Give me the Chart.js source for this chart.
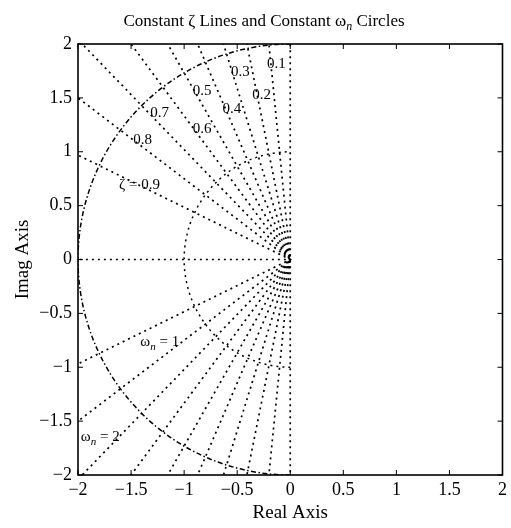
<!DOCTYPE html>
<html>
<head>
<meta charset="utf-8">
<script src="https://cdn.jsdelivr.net/npm/chart.js@4.4.1/dist/chart.umd.min.js"></script>
<style>
  html, body { margin: 0; padding: 0; background: #fff; }
  #wrap { width: 511px; height: 528px; position: relative; }
</style>
</head>
<body>
<div id="wrap"><canvas id="sgrid"></canvas></div>
<script>
// damping ratios drawn as rays from the origin
const zetaValues = [0, 0.1, 0.2, 0.3, 0.4, 0.5, 0.6, 0.7, 0.8, 0.9, 1];
// natural frequencies drawn as half circles
const wnValues = [1, 2];
const wnDash = [[2, 4], [5, 2.5, 1.5, 2.5]];

const xTickValues = [-2, -1.5, -1, -0.5, 0, 0.5, 1, 1.5, 2];
const xTickLabels = ['\u22122', '\u22121.5', '\u22121', '\u22120.5', '0', '0.5', '1', '1.5', '2'];
const yTickValues = [-2, -1.5, -1, -0.5, 0, 0.5, 1, 1.5, 2];
const yTickLabels = ['\u22122', '\u22121.5', '\u22121', '\u22120.5', '0', '0.5', '1', '1.5', '2'];

// in-plot labels (data coordinates)
const zetaLabelText = ['0.1', '0.2', '0.3', '0.4', '0.5', '0.6', '0.7', '0.8', '\u03B6 = 0.9'];
const zetaLabelX = [-0.13, -0.27, -0.47, -0.55, -0.83, -0.83, -1.23, -1.39, -1.42];
const zetaLabelY = [1.81, 1.53, 1.74, 1.40, 1.56, 1.21, 1.36, 1.11, 0.69];
const wnLabelValue = ['1', '2'];
const wnLabelX = [-1.23, -1.79];
const wnLabelY = [-0.77, -1.65];

const SERIF = '"Liberation Serif", "DejaVu Serif", serif';
const RAY_LEN = 3;

function rayPoints(z) {
  const s = Math.sqrt(1 - z * z);
  const pts = [{ x: -RAY_LEN * z, y: RAY_LEN * s }, { x: 0, y: 0 }];
  if (s > 0) pts.push({ x: -RAY_LEN * z, y: -RAY_LEN * s });
  return pts;
}

const datasets = zetaValues.map((z) => ({
  label: 'zeta ' + z,
  data: rayPoints(z),
  showLine: true,
  borderColor: '#000',
  borderWidth: 1.7,
  borderDash: [2, 4],
  borderCapStyle: 'butt',
  pointRadius: 0,
  fill: false,
}));

// draws text with an italic subscript n after omega
function drawOmegaN(ctx, x, y, size, rest, align) {
  const main = size + 'px ' + SERIF;
  const sub = 'italic ' + Math.round(size * 0.72) + 'px ' + SERIF;
  ctx.font = main;
  const w1 = ctx.measureText('\u03C9').width;
  ctx.font = sub;
  const w2 = ctx.measureText('n').width;
  ctx.font = main;
  const w3 = ctx.measureText(rest).width;
  let start = x;
  if (align === 'center') start = x - (w1 + w2 + w3) / 2;
  ctx.textAlign = 'left';
  ctx.textBaseline = 'middle';
  ctx.font = main;
  ctx.fillText('\u03C9', start, y);
  ctx.font = sub;
  ctx.fillText('n', start + w1, y + size * 0.3);
  ctx.font = main;
  ctx.fillText(rest, start + w1 + w2, y);
}

const sgridExtras = {
  id: 'sgridExtras',
  beforeDatasetsDraw(chart) {
    const { ctx, chartArea, scales } = chart;
    const cx = scales.x.getPixelForValue(0);
    const cy = scales.y.getPixelForValue(0);
    ctx.save();
    ctx.beginPath();
    ctx.rect(chartArea.left, chartArea.top, chartArea.right - chartArea.left, chartArea.bottom - chartArea.top);
    ctx.clip();
    ctx.strokeStyle = '#000';
    ctx.lineWidth = 1.5;
    wnValues.forEach((wn, i) => {
      const rx = Math.abs(scales.x.getPixelForValue(wn) - cx);
      const ry = Math.abs(scales.y.getPixelForValue(wn) - cy);
      ctx.setLineDash(wnDash[i]);
      ctx.beginPath();
      ctx.ellipse(cx, cy, rx, ry, 0, Math.PI / 2, Math.PI * 1.5);
      ctx.stroke();
    });
    ctx.restore();
  },
  afterDraw(chart) {
    const { ctx, chartArea, scales } = chart;
    const { left, right, top, bottom } = chartArea;
    ctx.save();
    ctx.setLineDash([]);
    ctx.strokeStyle = '#000';
    ctx.lineWidth = 1.6;
    ctx.strokeRect(left, top, right - left, bottom - top);

    // inward ticks on all four sides
    ctx.lineWidth = 1;
    ctx.beginPath();
    xTickValues.forEach((v) => {
      const px = scales.x.getPixelForValue(v);
      ctx.moveTo(px, bottom); ctx.lineTo(px, bottom - 5);
      ctx.moveTo(px, top); ctx.lineTo(px, top + 5);
    });
    yTickValues.forEach((v) => {
      const py = scales.y.getPixelForValue(v);
      ctx.moveTo(left, py); ctx.lineTo(left + 5, py);
      ctx.moveTo(right, py); ctx.lineTo(right - 5, py);
    });
    ctx.stroke();

    ctx.fillStyle = '#000';
    ctx.font = '15px ' + SERIF;
    ctx.textAlign = 'center';
    ctx.textBaseline = 'middle';
    zetaLabelText.forEach((t, i) => {
      ctx.fillText(t, scales.x.getPixelForValue(zetaLabelX[i]), scales.y.getPixelForValue(zetaLabelY[i]));
    });
    wnLabelValue.forEach((t, i) => {
      drawOmegaN(ctx, scales.x.getPixelForValue(wnLabelX[i]), scales.y.getPixelForValue(wnLabelY[i]), 15, ' = ' + t, 'center');
    });

    // title with the subscripted omega
    const size = 17;
    const main = size + 'px ' + SERIF;
    const part1 = 'Constant \u03B6 Lines and Constant ';
    const part3 = ' Circles';
    ctx.font = main;
    const w1 = ctx.measureText(part1).width;
    const wOm = ctx.measureText('\u03C9').width;
    const w3 = ctx.measureText(part3).width;
    ctx.font = 'italic ' + Math.round(size * 0.72) + 'px ' + SERIF;
    const wN = ctx.measureText('n').width;
    const tx = 264 - (w1 + wOm + wN + w3) / 2;
    const ty = 22;
    ctx.textAlign = 'left';
    ctx.font = main;
    ctx.fillText(part1, tx, ty);
    drawOmegaN(ctx, tx + w1, ty, size, part3, 'left');
    ctx.restore();
  },
};

new Chart(document.getElementById('sgrid'), {
  type: 'scatter',
  data: { datasets },
  options: {
    responsive: true,
    maintainAspectRatio: false,
    animation: false,
    layout: { padding: { top: 44, right: 8, left: 0, bottom: 0 } },
    plugins: {
      legend: { display: false },
      tooltip: { enabled: false },
      title: { display: false },
    },
    scales: {
      x: {
        type: 'linear',
        min: -2,
        max: 2,
        afterFit: (scale) => { scale.height = 53; },
        afterBuildTicks: (scale) => { scale.ticks = xTickValues.map((v) => ({ value: v })); },
        grid: { display: false, drawTicks: false },
        border: { display: false },
        ticks: {
          color: '#000',
          padding: 4,
          maxRotation: 0,
          autoSkip: false,
          font: { family: SERIF, size: 18 },
          callback: (v, i) => xTickLabels[i],
        },
        title: {
          display: true,
          text: 'Real Axis',
          color: '#000',
          font: { family: SERIF, size: 19 },
          padding: { top: 0 },
        },
      },
      y: {
        type: 'linear',
        min: -2,
        max: 2,
        afterFit: (scale) => { scale.width = 78; },
        afterBuildTicks: (scale) => { scale.ticks = yTickValues.map((v) => ({ value: v })); },
        grid: { display: false, drawTicks: false },
        border: { display: false },
        ticks: {
          color: '#000',
          padding: 6,
          autoSkip: false,
          font: { family: SERIF, size: 18 },
          callback: (v, i) => yTickLabels[i],
        },
        title: {
          display: true,
          text: 'Imag Axis',
          color: '#000',
          font: { family: SERIF, size: 19 },
          padding: { top: 12, bottom: 0 },
        },
      },
    },
  },
  plugins: [sgridExtras],
});
</script>
</body>
</html>
